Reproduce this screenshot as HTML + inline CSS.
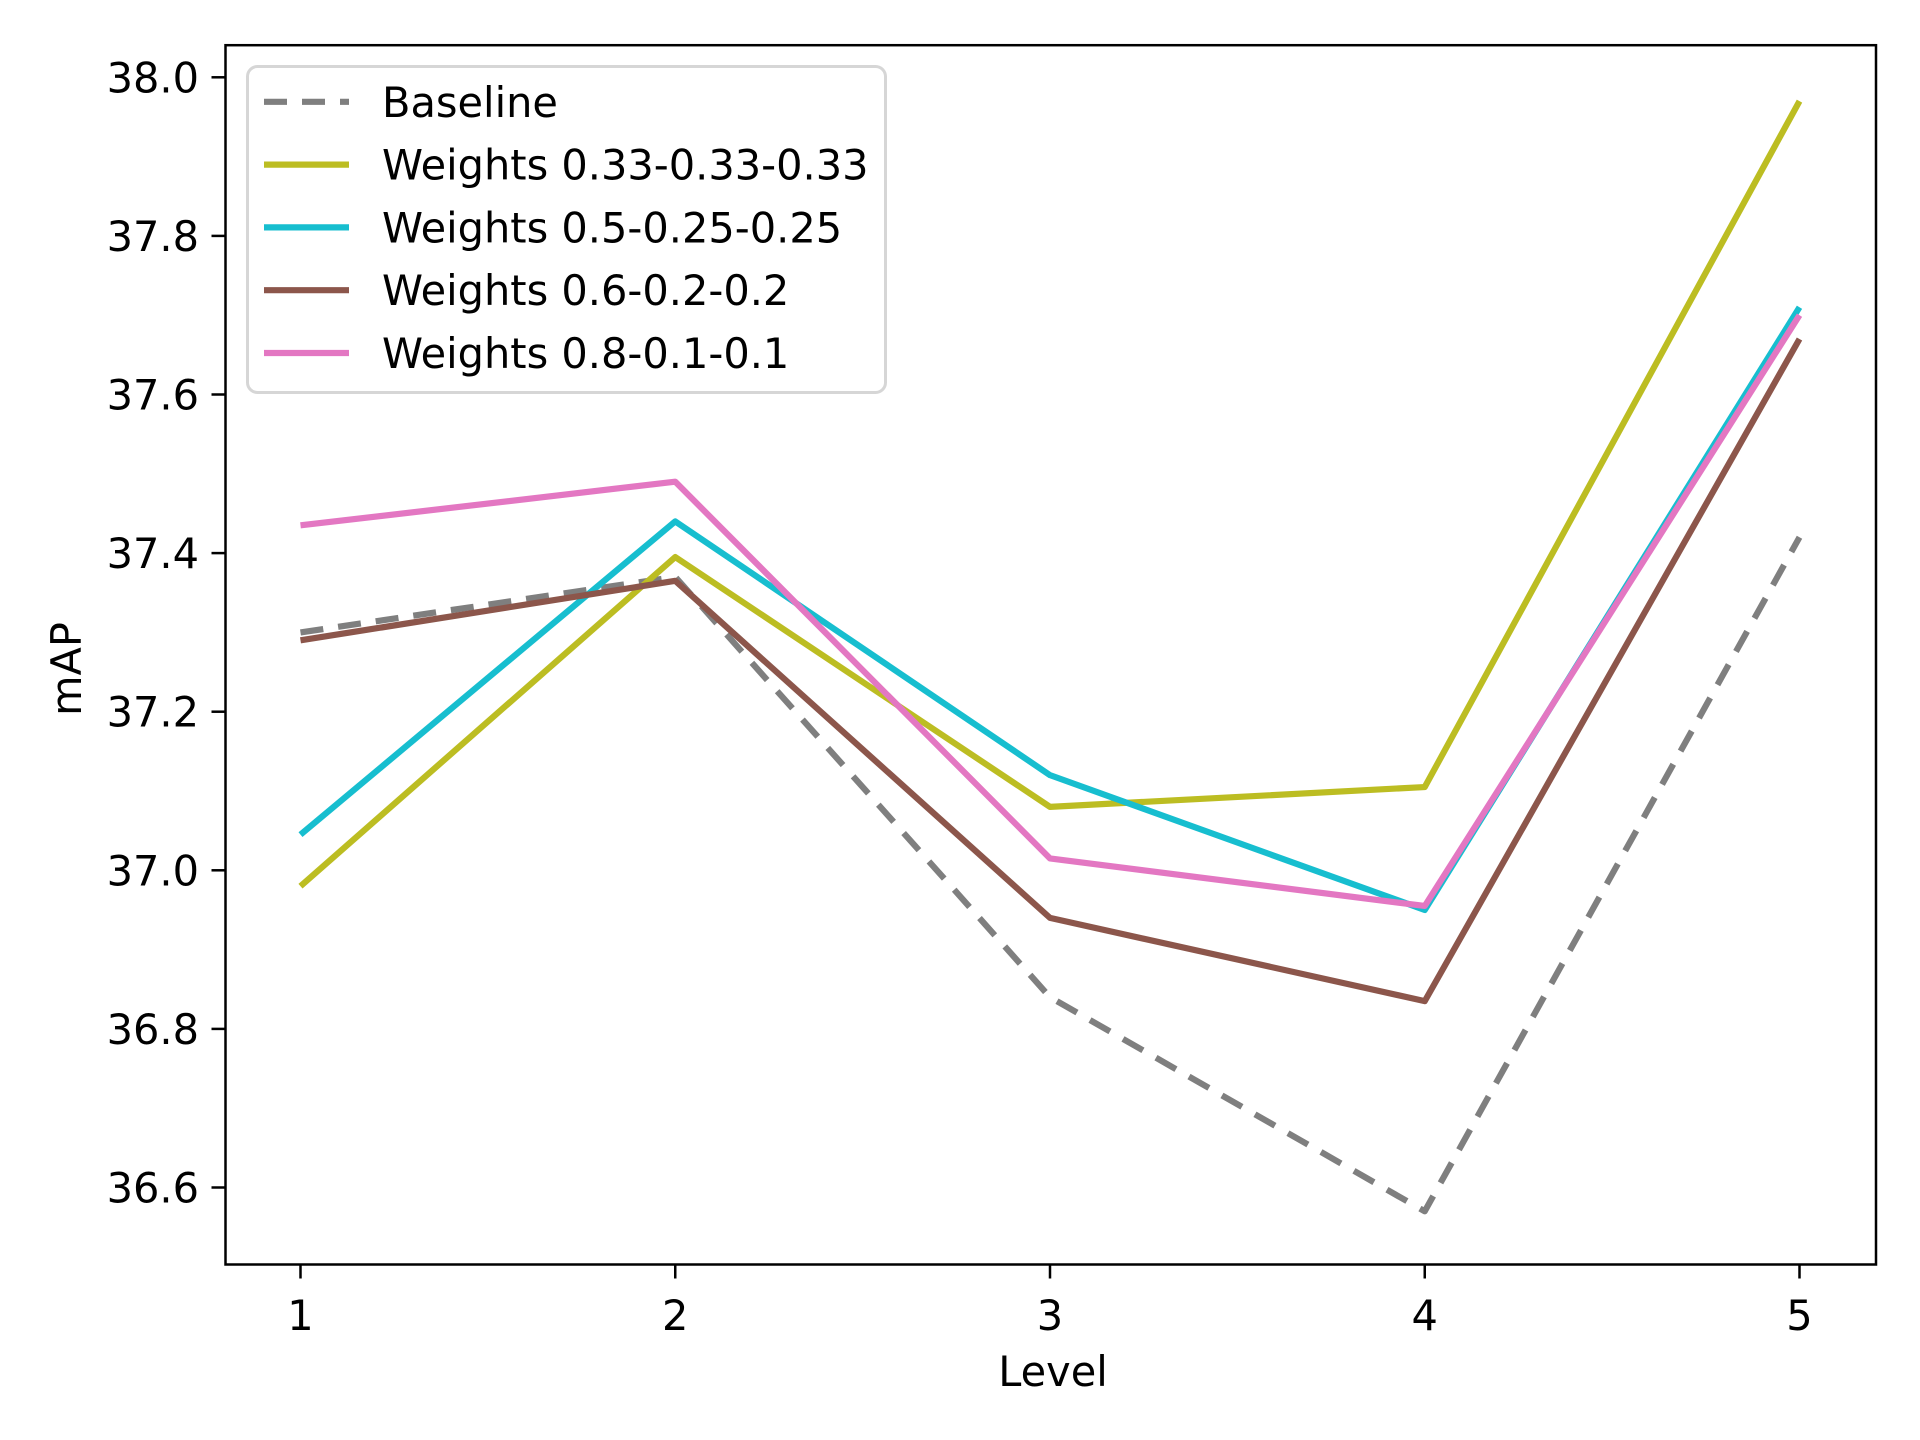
<!DOCTYPE html>
<html><head><meta charset="utf-8"><style>
html,body{margin:0;padding:0;background:#fff;}
svg{display:block;font-family:"DejaVu Sans","Liberation Sans",sans-serif;}
</style></head><body>
<svg id="chart" width="1920" height="1440" viewBox="0 0 1920 1440">
<rect x="0" y="0" width="1920" height="1440" fill="#fff"/>
<g id="series"></g>
<rect x="225.5" y="45.2" width="1650.5" height="1219.3" fill="none" stroke="#000" stroke-width="2.5"/>
<g id="axes"></g>
<text x="1053" y="1386" font-size="41.5" text-anchor="middle">Level</text>
<text x="0" y="0" font-size="41.5" text-anchor="middle" transform="translate(81,669) rotate(-90)">mAP</text>
<g id="legend"></g>
</svg>
<script>
const levels = [1, 2, 3, 4, 5];
const yTicks = [36.6, 36.8, 37.0, 37.2, 37.4, 37.6, 37.8, 38.0];
const seriesNames = ["Baseline", "Weights 0.33-0.33-0.33", "Weights 0.5-0.25-0.25", "Weights 0.6-0.2-0.2", "Weights 0.8-0.1-0.1"];
const baseline = [37.30, 37.37, 36.84, 36.57, 37.42];
const w333 = [36.98, 37.395, 37.08, 37.105, 37.97];
const w5 = [37.045, 37.44, 37.12, 36.95, 37.71];
const w6 = [37.29, 37.365, 36.94, 36.835, 37.67];
const w8 = [37.435, 37.49, 37.015, 36.955, 37.70];

const NS = "http://www.w3.org/2000/svg";
function xS(v){ return 300.5 + (v - 1) * (1799.5 - 300.5) / 4; }
function yS(v){ return 77.3 + (38.0 - v) * (1187.5 - 77.3) / 1.4; }
function mk(tag, attrs, parent){ const e = document.createElementNS(NS, tag); for (const k in attrs) e.setAttribute(k, attrs[k]); parent.appendChild(e); return e; }

const axes = document.getElementById("axes");
levels.forEach(v => {
  const t = mk("line", {x1: xS(v), x2: xS(v), y1: 1264.5, y2: 1278.5, stroke: "#000", "stroke-width": 2.5}, axes);
  
  
  const l = mk("text", {x: xS(v), y: 1330, "font-size": 41.5, "text-anchor": "middle"}, axes);
  l.textContent = v;
  
  
});
yTicks.forEach(v => {
  const t = mk("line", {x1: 211.5, x2: 225.5, y1: yS(v), y2: yS(v), stroke: "#000", "stroke-width": 2.5}, axes);
  
  
  const l = mk("text", {x: 199, y: yS(v) + 15, "font-size": 41.5, "text-anchor": "end"}, axes);
  l.textContent = v.toFixed(1);
  
  
});

const allSeries = [baseline, w333, w5, w6, w8];
const colors = ["#7f7f7f", "#bcbd22", "#17becf", "#8c564b", "#e377c2"];
const dashes = ["23,15", null, null, null, null];
const sg = document.getElementById("series");
allSeries.forEach((d, i) => {
  const pts = d.map((v, j) => xS(levels[j]) + "," + yS(v)).join(" ");
  const p = mk("polyline", {points: pts, fill: "none", stroke: colors[i], "stroke-width": 6.2, "stroke-linejoin": "round"}, sg);
  if (dashes[i]) p.setAttribute("stroke-dasharray", dashes[i]);
  
  
});
const lg = document.getElementById("legend");
const box = mk("rect", {x: 247.5, y: 66.5, width: 638, height: 326, rx: 10, fill: "#fff", "fill-opacity": 0.8, stroke: "#d6d6d6", "stroke-width": 3}, lg);


seriesNames.forEach((n, i) => {
  const cy = 101.8 + i * 62.8;
  const ln = mk("line", {x1: 264, x2: 349, y1: cy, y2: cy, stroke: colors[i], "stroke-width": 6.2}, lg);
  if (dashes[i]) ln.setAttribute("stroke-dasharray", dashes[i]);
  
  
  const t = mk("text", {x: 382, y: cy + 15, "font-size": 41.5}, lg);
  t.textContent = n;
  
  
});
</script>
</body></html>
